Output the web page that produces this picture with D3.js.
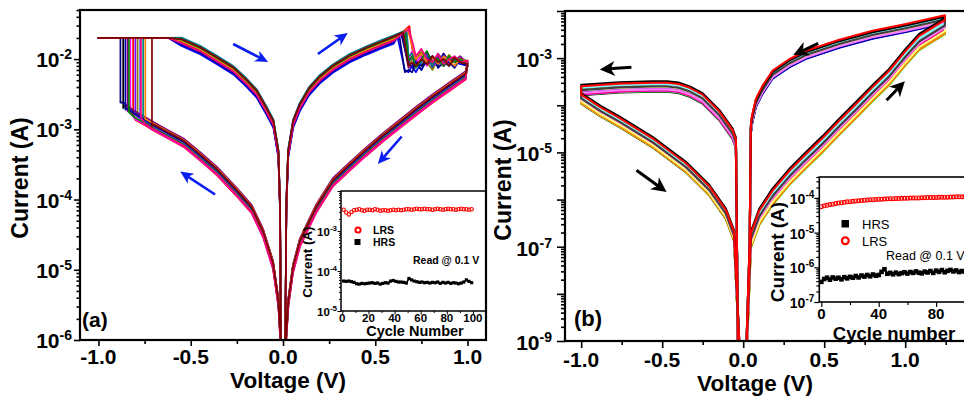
<!DOCTYPE html>
<html>
<head>
<meta charset="utf-8">
<script src="https://cdn.jsdelivr.net/npm/d3@7"></script>
<style>
  body { margin: 0; background: #fff; }
  svg text { font-family: "Liberation Sans", Arial, Helvetica, sans-serif; fill: #000; }
</style>
</head>
<body>
<svg id="chart" width="964" height="401"></svg>
<script>
// ---------- panel (a) : I-V sweeps, [V, A] ----------
const aCompliance = 2e-2;
const aUpperRight = [[0.008,1e-8],[0.013,1e-6],[0.018,8e-5],[0.028,4.6e-4],[0.055,1.23e-3],[0.09,2.1e-3],
  [0.142,3.6e-3],[0.2,5.3e-3],[0.27,7.5e-3],[0.36,1.05e-2],[0.45,1.35e-2],[0.53,1.65e-2],[0.6,1.95e-2]];
const aLowerRight = [[0.99,6.0e-3],[0.90,4.1e-3],[0.81,2.8e-3],[0.72,1.85e-3],[0.63,1.2e-3],[0.54,7.8e-4],
  [0.45,4.9e-4],[0.36,3.0e-4],[0.27,1.8e-4],[0.18,7.6e-5],[0.092,2.5e-5],[0.054,1.05e-5],[0.029,3.5e-6],
  [0.016,1e-6],[0.01,1e-8]];
const aLowerLeft = [[-0.008,1e-8],[-0.013,1e-6],[-0.025,3.5e-6],[-0.054,1.2e-5],[-0.108,3.4e-5],[-0.17,7.5e-5],
  [-0.25,1.3e-4],[-0.358,2.6e-4],[-0.449,4.2e-4],[-0.539,6.6e-4],[-0.62,8.6e-4],[-0.70,1.12e-3],
  [-0.75,1.35e-3],[-0.80,1.6e-3],[-0.84,1.9e-3],[-0.865,2.2e-3],[-0.89,2.5e-3]];
const aUpperLeft = [[-1.0,2e-2],[-0.62,2e-2],[-0.55,1.8e-2],[-0.449,1.38e-2],[-0.36,1.0e-2],[-0.269,7.1e-3],
  [-0.2,4.8e-3],[-0.142,3.3e-3],[-0.09,1.9e-3],[-0.052,1.23e-3],[-0.025,4.6e-4],[-0.016,8e-5],
  [-0.012,1e-6],[-0.008,1e-8]];

// per cycle
const aColors = ["#000000","#FF0000","#0000FF","#FF00FF","#808000","#000080","#8000FF",
  "#800080","#008080","#0000A0","#FF8000","#008000","#FF0080","#800000"];
const aShiftUp  = [0.02,-0.01,-0.07,0.03,0.01,-0.04,0.04,-0.02,0.05,-0.05,0.0,0.02,-0.03,0.03];
const aShiftLow = [0.0,-0.07,0.03,-0.06,0.02,0.04,-0.02,0.05,-0.03,0.01,0.03,-0.04,-0.05,0.02];
const aSetV = [-0.866,-0.812,-0.773,-0.827,-0.788,-0.881,-0.80,-0.842,-0.758,-0.854,-0.746,-0.835,-0.77,-0.71];
const aSetI = [2.0,1.6,1.5,1.7,1.55,2.4,1.6,1.8,1.45,1.9,1.4,1.75,1.5,1.1];   // mA
const aPeakV = [0.655,0.685,0.62,0.67,0.65,0.63,0.66,0.645,0.67,0.64,0.675,0.66,0.68,0.65];
const aPeakI = [24,29.5,21,26,24,22,25,23,26,23,27,25,27,24];                   // mA
const aResetGrid = [0.66,0.68,0.70,0.72,0.75,0.78,0.81,0.84,0.87,0.90,0.93,0.96,1.00];
const aReset = [                                                                 // mA
  [null,9,7.5,9.5,8,10,8.5,11,8,9.5,10.5,8.5,9],
  [null,null,14,11,12.5,9.5,10.5,9,10,8.5,9.5,10,9],
  [7,6.5,8,6.5,9,12,7.5,10,8,11,9,8.5,8],
  [null,10,13,9,11,8,10,9,12,8.5,10,9.5,9],
  [null,8,10,11,12.5,9,7,10,9,11.5,9,10,9.5],
  [6.5,7,6.5,9,7,10,11,7.5,9,8,10.5,9,8],
  [null,9,11,8,9.5,12,8,9,11,9,8,10,9],
  [null,7.5,8,10,12,8.5,9,11,8,10,9.5,11,8.5],
  [null,11,12,8,9,11,8,12,9.5,8,10,9,9],
  [null,8.5,8,9,7,10,11,8,12,9,7.5,10,8],
  [null,null,15,10,12,9,10.5,8.5,11,9.5,8,10,9],
  [null,9.5,11,7.5,10,13,9,10,8,11,9,10,8.5],
  [null,null,18,11,14,10,9,12,8.5,10,11,9,9.5],
  [null,8,9,8,10,8.5,11,9,10,8,10.5,9,8.5]
];
const aArrows = [[-0.27,1.64e-2,-0.081,9.1e-3],[0.189,1.18e-2,0.351,2.35e-2],
  [0.643,7.9e-4,0.514,3.2e-4],[-0.368,1.18e-4,-0.557,2.5e-4]];
const aXMajor = [-1.0,-0.5,0.0,0.5,1.0], aXMinor = [-0.75,-0.25,0.25,0.75];
const aYLabels = [1e-6,1e-5,1e-4,1e-3,1e-2];

// ---------- panel (b) ----------
const bUpperLeft = [[-0.03,1e-10],[-0.045,1.6e-5],[-0.066,2.5e-5],[-0.148,6.2e-5],[-0.251,1.4e-4],
  [-0.33,1.95e-4],[-0.40,2.35e-4],[-0.47,2.5e-4],[-0.56,2.5e-4],[-0.765,2.4e-4],[-1.0,2.1e-4]];
const bLowerLeft = [[-1.0,1.4e-4],[-0.88,7.5e-5],[-0.765,4.5e-5],[-0.56,1.66e-5],[-0.354,4.9e-6],
  [-0.21,1.6e-6],[-0.107,5e-7],[-0.056,1.7e-7],[-0.012,1e-10]];
const bLowerRight = [[0.012,1e-10],[0.047,1.4e-7],[0.099,4.3e-7],[0.181,1.15e-6],[0.284,3e-6],[0.387,6.8e-6],
  [0.49,1.5e-5],[0.593,3.5e-5],[0.696,7.9e-5],[0.798,1.8e-4],[0.901,4e-4],[1.004,1.07e-3],[1.086,2.2e-3],
  [1.169,3.3e-3],[1.245,4.8e-3]];
const bUpperRight = [[1.245,6.6e-3],[1.004,4.3e-3],[0.798,3.1e-3],[0.593,2.0e-3],[0.387,1.16e-3],[0.284,7.7e-4],
  [0.181,4.4e-4],[0.119,2.1e-4],[0.078,1.1e-4],[0.054,4.8e-5],[0.047,3e-5],[0.04,1e-7],[0.012,1e-10]];
const bColors = ["#000000","#FF0000","#00FF00","#0000FF","#00FFFF","#FF00FF","#FFFF00","#808000",
  "#000080","#800080","#800000","#008000","#008080","#0000A0","#FF8000","#8000FF","#FF0080","#FFFFFF",
  "#C0C0C0","#808080","#FFFF80","#80FFFF","#FF80FF","#404040","#000000","#FF0000"];
const bShiftUL = [-0.11,0.06,-0.1,-0.04,0.05,-0.09,0.0,-0.02,-0.06,0.02,0.03,-0.05,0.04,-0.07,0.01,-0.03,
  -0.08,0.07,0.06,0.02,-0.01,0.05,-0.06,0.0,0.11,0.08];
const bShiftLL = [-0.11,0.05,-0.09,0.0,-0.04,0.02,-0.1,-0.07,0.03,-0.02,0.06,-0.08,0.01,-0.05,-0.09,0.04,
  -0.03,0.07,0.05,0.02,-0.06,0.03,-0.01,0.0,0.11,0.08];
const bShiftLR = [-0.05,0.1,-0.17,-0.02,-0.08,0.04,-0.12,-0.14,0.06,0.0,0.08,-0.1,0.03,-0.04,-0.16,0.02,
  -0.06,0.12,0.09,0.05,-0.11,0.07,-0.03,0.01,0.17,0.13];
const bShiftUR = [-0.02,0.05,-0.06,-0.08,0.0,-0.03,0.02,-0.04,-0.07,0.01,0.03,-0.05,0.04,-0.07,-0.01,-0.04,
  0.02,0.06,0.07,0.03,-0.02,0.04,-0.05,0.0,0.06,0.09];
const bArrows = [[-0.69,6.4e-4,-0.885,5.75e-4],[0.463,2.05e-3,0.309,1.16e-3],
  [-0.659,4.2e-6,-0.473,1.44e-6],[0.885,1.28e-4,0.998,3.24e-4]];
const bXMajor = [-1.0,-0.5,0.0,0.5,1.0], bXMinor = [-0.75,-0.25,0.25,0.75,1.25];
const bYLabels = [1e-9,1e-7,1e-5,1e-3];

// ---------- insets: endurance ----------
const insACycles = [1,3,5,7,9,11,13,15,17,19,21,23,25,27,29,31,33,35,37,39,41,43,45,47,49,
  51,53,55,57,59,61,63,65,67,69,71,73,75,77,79,81,83,85,87,89,91,93,95,97,99];
const insALRS = [3.4,2.9,2.6,3.0,3.3,3.4,3.5,3.3,3.2,3.4,3.4,3.3,3.5,3.4,3.2,3.3,3.3,3.2,3.3,3.4,
  3.3,3.4,3.3,3.4,3.5,3.5,3.4,3.5,3.6,3.5,3.5,3.6,3.5,3.5,3.4,3.5,3.6,3.5,3.4,3.5,
  3.6,3.5,3.5,3.4,3.5,3.6,3.5,3.5,3.4,3.5];                                      // mA
const insAHRS = [5.6,5.5,5.6,5.4,5.2,4.8,4.7,4.9,4.8,4.9,5.0,5.1,4.9,5.0,4.7,4.9,5.1,5.0,5.6,5.8,
  5.5,5.3,5.3,5.2,5.0,6.5,6.0,5.6,5.4,5.2,5.3,5.1,5.2,5.0,5.2,5.1,5.3,4.9,5.2,5.0,
  5.2,4.9,5.1,5.0,4.8,5.0,5.3,6.0,5.5,5.1];                                      // x1e-5 A
const insBCycles = [0,2,4,6,8,10,12,14,16,18,20,22,24,26,28,30,32,34,36,38,40,42,44,46,48,50,
  52,54,56,58,60,62,64,66,68,70,72,74,76,78,80,82,84,86,88,90,92,94,96,98,100];
const insBLRS = [5.6,5.9,6.1,6.4,6.6,6.9,7.1,7.3,7.5,7.7,7.8,8.0,8.2,8.3,8.4,8.6,8.7,8.8,8.9,9.0,
  9.2,9.2,9.3,9.4,9.5,9.5,9.6,9.6,9.7,9.8,9.8,9.9,9.9,10.0,10.0,10.1,10.1,10.2,10.2,10.3,
  10.3,10.4,10.4,10.5,10.5,10.6,10.6,10.7,10.7,10.8,10.9];                       // x1e-5 A
const insBHRS = [3.8,4.6,5.0,4.4,5.1,4.7,5.0,4.5,5.2,4.8,5.3,5.0,5.6,5.1,5.8,5.4,6.0,5.5,6.2,5.7,
  6.0,7.4,8.8,6.5,6.9,6.3,7.0,6.4,6.8,7.2,6.6,7.3,6.9,7.6,7.0,6.7,7.5,7.1,7.8,6.9,
  8.0,7.4,8.3,7.2,7.9,8.4,7.6,8.1,7.3,7.8,7.5];                                  // x1e-7 A

// ---------- drawing ----------
const svg = d3.select("#chart");
const defs = svg.append("defs");

const xa = d3.scaleLinear().domain([-1.1, 1.1]).range([80, 486]);
const ya = d3.scaleLog().domain([1e-6, 0.05]).range([340, 10]);
const xb = d3.scaleLinear().domain([-1.1, 1.4]).range([565, 970]);
const yb = d3.scaleLog().domain([1e-9, 1e-2]).range([341, 11]);
const xia = d3.scaleLinear().domain([-1, 110]).range([341, 486]);
const yia = d3.scaleLog().domain([1e-5, 1e-2]).range([311, 191]);
const xib = d3.scaleLinear().domain([-1.4, 105]).range([819.3, 972]);
const yib = d3.scaleLog().domain([1e-7, 4e-4]).range([302, 177]);

function addClip(id, x, y) {
  const [x0, x1] = x.range(), [y1, y0] = y.range();
  defs.append("clipPath").attr("id", id).append("rect")
    .attr("x", x0).attr("y", y0).attr("width", x1 - x0).attr("height", y1 - y0);
}
addClip("clipA", xa, ya);
addClip("clipB", xb, yb);

function cycleA(i) {
  const up = Math.pow(10, aShiftUp[i]), lo = Math.pow(10, aShiftLow[i]);
  const pts = aUpperRight.map(([v, c]) => [v, c * up]);
  pts.push([aPeakV[i], aPeakI[i] * 1e-3]);
  aResetGrid.forEach((v, k) => { const c = aReset[i][k]; if (c != null && v > aPeakV[i]) pts.push([v, c * 1e-3]); });
  aLowerRight.forEach(([v, c]) => pts.push([v, c * lo]));
  aLowerLeft.filter(([v]) => v > aSetV[i]).forEach(([v, c]) => pts.push([v, c * lo]));
  pts.push([aSetV[i], aSetI[i] * 1e-3], [aSetV[i], aCompliance]);
  aUpperLeft.forEach(([v, c]) => pts.push([v, c >= aCompliance ? c : c * up]));
  return pts;
}
function cycleB(i) {
  const sh = (arr, s) => arr.map(([v, c]) => [v, c * Math.pow(10, s)]);
  return [].concat(sh(bUpperLeft, bShiftUL[i]), sh(bLowerLeft, bShiftLL[i]),
                   sh(bLowerRight, bShiftLR[i]), sh(bUpperRight, bShiftUR[i]));
}

const lineA = d3.line().x(d => xa(d[0])).y(d => ya(d[1]));
const lineB = d3.line().x(d => xb(d[0])).y(d => yb(d[1]));
const ga = svg.append("g").attr("clip-path", "url(#clipA)");
aColors.forEach((c, i) => ga.append("path").attr("d", lineA(cycleA(i)))
  .attr("fill", "none").attr("stroke", c).attr("stroke-width", 1.7).attr("stroke-linejoin", "round"));
const gb = svg.append("g").attr("clip-path", "url(#clipB)");
bColors.forEach((c, i) => gb.append("path").attr("d", lineB(cycleB(i)))
  .attr("fill", "none").attr("stroke", c).attr("stroke-width", 2.1).attr("stroke-linejoin", "round"));

function arrow(g, x, y, a, color, w, hl, hw) {
  const x1 = x(a[0]), y1 = y(a[1]), x2 = x(a[2]), y2 = y(a[3]);
  const ang = Math.atan2(y2 - y1, x2 - x1), c = Math.cos(ang), s = Math.sin(ang);
  g.append("line").attr("x1", x1).attr("y1", y1)
    .attr("x2", x2 - c * hl * 0.6).attr("y2", y2 - s * hl * 0.6)
    .attr("stroke", color).attr("stroke-width", w);
  const bx = x2 - c * hl, by = y2 - s * hl;
  const pts = [[x2, y2], [bx - s * hw, by + c * hw], [x2 - c * hl * 0.72, y2 - s * hl * 0.72], [bx + s * hw, by - c * hw]];
  g.append("polygon").attr("points", pts.map(p => p.join(",")).join(" ")).attr("fill", color);
}
aArrows.forEach(a => arrow(svg, xa, ya, a, "#0A1EF0", 2.6, 13, 6));
bArrows.forEach(a => arrow(svg, xb, yb, a, "#000", 3, 15, 7.5));

function powLabel(g, x, y, exp, size, sup, supDy) {
  const t = g.append("text").attr("x", x).attr("y", y).attr("text-anchor", "end")
    .attr("font-size", size).attr("font-weight", "bold");
  t.append("tspan").text("10");
  t.append("tspan").attr("font-size", sup).attr("dy", supDy).text(exp);
}
const isDecade = v => Math.abs(Math.log10(v) - Math.round(Math.log10(v))) < 1e-6;

function yLogAxis(x, y, o) {
  const x0 = x.range()[0];
  const all = y.ticks();
  const g = svg.append("g").attr("transform", `translate(${x0},0)`);
  g.append("g").call(d3.axisLeft(y).tickValues(all.filter(v => !isDecade(v))).tickSize(o.minor).tickFormat(""));
  g.append("g").call(d3.axisLeft(y).tickValues(all.filter(isDecade)).tickSize(o.major).tickFormat(""));
  g.selectAll(".domain").remove();
  g.selectAll("line").attr("stroke-width", o.tw);
  o.labels.forEach(v => powLabel(svg, x0 - o.gap, y(v) + o.dy, String(Math.round(Math.log10(v))), o.fs, o.sup, o.supDy));
}
function xLinAxis(x, y, o) {
  const y0 = y.range()[0];
  const g = svg.append("g").attr("transform", `translate(0,${y0})`);
  g.append("g").call(d3.axisBottom(x).tickValues(o.minorV).tickSize(o.minor).tickFormat(""));
  g.append("g").call(d3.axisBottom(x).tickValues(o.majorV).tickSize(o.major).tickFormat(""));
  g.selectAll(".domain").remove();
  g.selectAll("line").attr("stroke-width", o.tw);
  o.majorV.forEach(v => svg.append("text").attr("x", x(v)).attr("y", y0 + o.dy)
    .attr("text-anchor", "middle").attr("font-size", o.fs).attr("font-weight", "bold").text(o.fmt(v)));
}
function frame(x, y, w) {
  const [x0, x1] = x.range(), [y1, y0] = y.range();
  svg.append("rect").attr("x", x0).attr("y", y0).attr("width", x1 - x0).attr("height", y1 - y0)
    .attr("fill", "none").attr("stroke", "#000").attr("stroke-width", w);
}
function vTitle(x, y, text, fs) {
  svg.append("text").attr("transform", `translate(${x},${y}) rotate(-90)`).attr("text-anchor", "middle")
    .attr("font-size", fs).attr("font-weight", "bold").text(text);
}
function hText(x, y, text, fs, anchor, weight) {
  svg.append("text").attr("x", x).attr("y", y).attr("text-anchor", anchor || "middle")
    .attr("font-size", fs).attr("font-weight", weight || "bold").text(text);
}

// insets
function inset(x, y, o) {
  const [x0, x1] = x.range(), [y1, y0] = y.range();
  svg.append("rect").attr("x", x0).attr("y", y0).attr("width", x1 - x0).attr("height", y1 - y0).attr("fill", "#fff");
  const g = svg.append("g");
  const hrs = o.cycles.map((c, k) => [c, o.hrs[k] * o.hrsUnit]);
  const lrs = o.cycles.map((c, k) => [c, o.lrs[k] * o.lrsUnit]);
  g.append("path").attr("d", d3.line().x(d => x(d[0])).y(d => y(d[1]))(hrs))
    .attr("fill", "none").attr("stroke", "#000").attr("stroke-width", o.hrsLine);
  g.selectAll(null).data(hrs).join("rect")
    .attr("x", d => x(d[0]) - o.sq / 2).attr("y", d => y(d[1]) - o.sq / 2)
    .attr("width", o.sq).attr("height", o.sq).attr("fill", "#000");
  g.selectAll(null).data(lrs).join("circle")
    .attr("cx", d => x(d[0])).attr("cy", d => y(d[1])).attr("r", o.r)
    .attr("fill", "none").attr("stroke", "#FF0000").attr("stroke-width", o.cw);
}
inset(xia, yia, { cycles: insACycles, hrs: insAHRS, hrsUnit: 1e-5, lrs: insALRS, lrsUnit: 1e-3,
  hrsLine: 1.6, sq: 3.2, r: 1.7, cw: 1.1 });
inset(xib, yib, { cycles: insBCycles, hrs: insBHRS, hrsUnit: 1e-7, lrs: insBLRS, lrsUnit: 1e-5,
  hrsLine: 2, sq: 4.6, r: 1.9, cw: 1.2 });

// axes, panel (a)
yLogAxis(xa, ya, { minor: 3.5, major: 6, tw: 1.6, gap: 8, dy: 8, fs: 21, sup: 14, supDy: -8, labels: aYLabels });
xLinAxis(xa, ya, { minorV: aXMinor, majorV: aXMajor, minor: 4, major: 6, tw: 1.6, dy: 24, fs: 21, fmt: v => v.toFixed(1) });
frame(xa, ya, 2.2);
vTitle(28, 178, "Current (A)", 23);
hText(288, 388, "Voltage (V)", 22.5);
hText(82, 327, "(a)", 21, "start");

// axes, panel (b)
yLogAxis(xb, yb, { minor: 4, major: 8, tw: 1.6, gap: 13, dy: 9, fs: 21, sup: 14, supDy: -8, labels: bYLabels });
xLinAxis(xb, yb, { minorV: bXMinor, majorV: bXMajor, minor: 4, major: 7, tw: 1.6, dy: 26, fs: 21, fmt: v => v.toFixed(1) });
frame(xb, yb, 2.2);
vTitle(511, 180, "Current (A)", 23);
hText(755, 391, "Voltage (V)", 22.5);
hText(574, 326, "(b)", 22, "start");

// inset (a) axes and text
yLogAxis(xia, yia, { minor: 2, major: 3.5, tw: 1, gap: 4, dy: 5, fs: 11.5, sup: 8, supDy: -5, labels: [1e-5, 1e-4, 1e-3] });
xLinAxis(xia, yia, { minorV: [10,30,50,70,90], majorV: [0,20,40,60,80,100], minor: 2, major: 3.5, tw: 1, dy: 11, fs: 11.5, fmt: v => String(v) });
frame(xia, yia, 1.5);
vTitle(312, 262, "Current (A)", 13.5);
hText(415, 336, "Cycle Number", 14.5);
svg.append("circle").attr("cx", 358).attr("cy", 230).attr("r", 2.6).attr("fill", "none").attr("stroke", "#FF0000").attr("stroke-width", 2);
svg.append("rect").attr("x", 354.5).attr("y", 239).attr("width", 6).attr("height", 6).attr("fill", "#000");
hText(373, 234, "LRS", 10.5, "start");
hText(373, 246, "HRS", 10.5, "start");
hText(413, 264, "Read @ 0.1 V", 10.5, "start");

// inset (b) axes and text
yLogAxis(xib, yib, { minor: 3, major: 5, tw: 1.2, gap: 5, dy: 6, fs: 14, sup: 10, supDy: -6, labels: [1e-7, 1e-6, 1e-5, 1e-4] });
xLinAxis(xib, yib, { minorV: [20,60,100], majorV: [0,40,80], minor: 3, major: 5, tw: 1.2, dy: 17, fs: 15, fmt: v => String(v) });
frame(xib, yib, 1.6);
vTitle(784, 252, "Current (A)", 19);
hText(894, 339.5, "Cycle number", 18.5);
svg.append("rect").attr("x", 841.5).attr("y", 220).attr("width", 7.5).attr("height", 7.5).attr("fill", "#000");
svg.append("circle").attr("cx", 845.3).attr("cy", 240.8).attr("r", 3.4).attr("fill", "none").attr("stroke", "#FF0000").attr("stroke-width", 2.2);
hText(862, 228.5, "HRS", 13, "start", "normal");
hText(862, 245.5, "LRS", 13, "start", "normal");
hText(886, 259.5, "Read @ 0.1 V", 12.5, "start", "normal");
</script>
</body>
</html>
